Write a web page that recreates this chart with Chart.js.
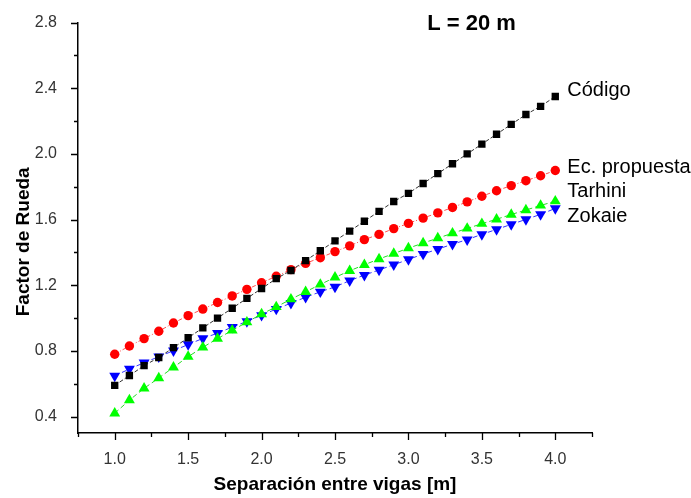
<!DOCTYPE html>
<html>
<head>
<meta charset="utf-8">
<script src="https://cdn.jsdelivr.net/npm/chart.js@4.4.0/dist/chart.umd.min.js"></script>
<style>
    html, body { margin: 0; padding: 0; background: #fff; }
    #wrap { width: 691px; height: 498px; }
</style>
</head>
<body>
<div id="wrap"><canvas id="chart" width="691" height="498"></canvas></div>
<script>
//Datos
const separacion = [1.0, 1.1, 1.2, 1.3, 1.4, 1.5, 1.6, 1.7, 1.8, 1.9, 2.0, 2.1, 2.2, 2.3, 2.4, 2.5,
    2.6, 2.7, 2.8, 2.9, 3.0, 3.1, 3.2, 3.3, 3.4, 3.5, 3.6, 3.7, 3.8, 3.9, 4.0];
const codigo = [0.59, 0.65, 0.71, 0.76, 0.82, 0.88, 0.94, 1.00, 1.06, 1.12, 1.18, 1.24, 1.29, 1.35, 1.41, 1.47,
    1.53, 1.59, 1.65, 1.71, 1.76, 1.82, 1.88, 1.94, 2.00, 2.06, 2.12, 2.18, 2.24, 2.29, 2.35];
const ecPropuesta = [0.78, 0.83, 0.875, 0.92, 0.97, 1.015, 1.055, 1.095, 1.135, 1.175, 1.215, 1.255, 1.295, 1.333, 1.368, 1.405,
    1.44, 1.478, 1.51, 1.545, 1.577, 1.609, 1.641, 1.674, 1.708, 1.742, 1.776, 1.807, 1.837, 1.867, 1.899];
const tarhini = [0.42, 0.50, 0.572, 0.635, 0.70, 0.765, 0.822, 0.875, 0.925, 0.975, 1.025, 1.068, 1.115, 1.16, 1.205, 1.248,
    1.288, 1.325, 1.36, 1.393, 1.426, 1.457, 1.487, 1.517, 1.546, 1.575, 1.602, 1.631, 1.658, 1.686, 1.712];
const zokaie = [0.648, 0.69, 0.728, 0.765, 0.801, 0.839, 0.876, 0.908, 0.945, 0.98, 1.017, 1.055, 1.091, 1.127, 1.16, 1.19,
    1.228, 1.262, 1.293, 1.325, 1.357, 1.39, 1.42, 1.45, 1.478, 1.51, 1.54, 1.571, 1.601, 1.632, 1.668];
const seriesNames = ['Código', 'Ec. propuesta', 'Tarhini', 'Zokaie'];
const xTicks = [0.75, 1.0, 1.25, 1.5, 1.75, 2.0, 2.25, 2.5, 2.75, 3.0, 3.25, 3.5, 3.75, 4.0, 4.25];
const xLabeled = [1.0, 1.5, 2.0, 2.5, 3.0, 3.5, 4.0];
const yTicks = [0.4, 0.6, 0.8, 1.0, 1.2, 1.4, 1.6, 1.8, 2.0, 2.2, 2.4, 2.6, 2.8];
const yLabeled = [0.4, 0.8, 1.2, 1.6, 2.0, 2.4, 2.8];
const titulo = 'L = 20 m';
const tituloY = 'Factor de Rueda';
const tituloX = 'Separación entre vigas [m]';

const fontFam = '"Liberation Sans", Arial, sans-serif';

function toPoints(values) {
    return separacion.map(function (s, i) { return {x: s, y: values[i]}; });
}

function isLabeled(list, v) {
    return list.some(function (l) { return Math.abs(l - v) < 1e-6; });
}

//Ticks (major/minor) hacia afuera
const tickMarks = {
    id: 'tickMarks',
    afterDraw(chart) {
        const ctx = chart.ctx;
        const xs = chart.scales.x, ys = chart.scales.y;
        ctx.save();
        ctx.strokeStyle = '#000';
        ctx.lineWidth = 1.3;
        ctx.beginPath();
        xs.ticks.forEach(function (t) {
            let px = Math.round(xs.getPixelForValue(t.value)) + 0.5;
            let len = isLabeled(xLabeled, t.value) ? 7 : 4;
            ctx.moveTo(px, xs.top);
            ctx.lineTo(px, xs.top + len);
        });
        ys.ticks.forEach(function (t) {
            let py = Math.round(ys.getPixelForValue(t.value)) + 0.5;
            let len = isLabeled(yLabeled, t.value) ? 7 : 4;
            ctx.moveTo(ys.right, py);
            ctx.lineTo(ys.right - len, py);
        });
        ctx.stroke();
        ctx.restore();
    }
};

//Etiquetas de series, titulo y titulo Y
const serieLabels = {
    id: 'serieLabels',
    afterDraw(chart) {
        const ctx = chart.ctx;
        const area = chart.chartArea;
        const offsets = [-6, -3, -10, 8];
        ctx.save();
        ctx.fillStyle = '#000';
        ctx.font = '20px ' + fontFam;
        ctx.textBaseline = 'middle';
        chart.data.datasets.forEach(function (ds, i) {
            let meta = chart.getDatasetMeta(i);
            let last = meta.data[meta.data.length - 1];
            ctx.fillText(seriesNames[i], last.x + 12, last.y + offsets[i]);
        });
        ctx.font = 'bold 22px ' + fontFam;
        ctx.textAlign = 'center';
        ctx.fillText(titulo, chart.scales.x.getPixelForValue(3.43), area.top + 1);
        //Titulo Y
        ctx.translate(24, (area.top + area.bottom) / 2 + 14);
        ctx.rotate(-Math.PI / 2);
        ctx.font = 'bold 19px ' + fontFam;
        ctx.fillText(tituloY, 0, 0);
        ctx.restore();
    }
};

const ctx = document.getElementById('chart');
const chart = new Chart(ctx, {
    type: 'line',
    data: {
        datasets: [{
            label: seriesNames[0],
            data: toPoints(codigo),
            borderColor: '#333',
            borderWidth: 1,
            borderDash: [4, 2],
            pointStyle: 'rect',
            pointRadius: 5.2,
            pointBackgroundColor: '#000',
            pointBorderColor: '#000',
            pointBorderWidth: 0
        }, {
            label: seriesNames[1],
            data: toPoints(ecPropuesta),
            borderColor: '#ff5050',
            borderWidth: 1,
            borderDash: [4, 2, 1, 2],
            pointStyle: 'circle',
            pointRadius: 4.7,
            pointBackgroundColor: '#ff0000',
            pointBorderColor: '#ff0000',
            pointBorderWidth: 0
        }, {
            label: seriesNames[2],
            data: toPoints(tarhini),
            borderColor: '#22dd22',
            borderWidth: 1,
            borderDash: [5, 3],
            pointStyle: 'triangle',
            pointRadius: 6.3,
            pointBackgroundColor: '#00ff00',
            pointBorderColor: '#00ff00',
            pointBorderWidth: 0
        }, {
            label: seriesNames[3],
            data: toPoints(zokaie),
            borderColor: '#3333ff',
            borderWidth: 1,
            borderDash: [5, 3],
            pointStyle: 'triangle',
            pointRotation: 180,
            pointRadius: 6.3,
            pointBackgroundColor: '#0000ff',
            pointBorderColor: '#0000ff',
            pointBorderWidth: 0
        }]
    },
    options: {
        responsive: false,
        animation: false,
        devicePixelRatio: 1,
        layout: {padding: {left: 0, top: 20, right: 99, bottom: 0}},
        plugins: {
            legend: {display: false},
            tooltip: {enabled: false}
        },
        scales: {
            x: {
                type: 'linear',
                min: 0.75,
                max: 4.25,
                afterBuildTicks: function (scale) {
                    scale.ticks = xTicks.map(function (v) { return {value: v}; });
                },
                afterFit: function (scale) { scale.height = 65; },
                grid: {display: false},
                border: {display: true, color: '#000', width: 1.5},
                ticks: {
                    autoSkip: false,
                    maxRotation: 0,
                    padding: 9,
                    color: '#333',
                    font: {family: fontFam, size: 16},
                    callback: function (v) { return isLabeled(xLabeled, v) ? v.toFixed(1) : ''; }
                },
                title: {
                    display: true,
                    text: tituloX,
                    color: '#000',
                    font: {family: fontFam, size: 19, weight: 'bold'},
                    padding: {top: 0, bottom: 2}
                }
            },
            y: {
                type: 'linear',
                min: 0.3,
                max: 2.8,
                afterBuildTicks: function (scale) {
                    scale.ticks = yTicks.map(function (v) { return {value: v}; });
                },
                afterFit: function (scale) { scale.width = 78; },
                grid: {display: false},
                border: {display: true, color: '#000', width: 1.5},
                ticks: {
                    autoSkip: false,
                    padding: 13,
                    color: '#333',
                    font: {family: fontFam, size: 16},
                    callback: function (v) { return isLabeled(yLabeled, v) ? v.toFixed(1) : ''; }
                },
                title: {display: false}
            }
        }
    },
    plugins: [tickMarks, serieLabels]
});
</script>
</body>
</html>
